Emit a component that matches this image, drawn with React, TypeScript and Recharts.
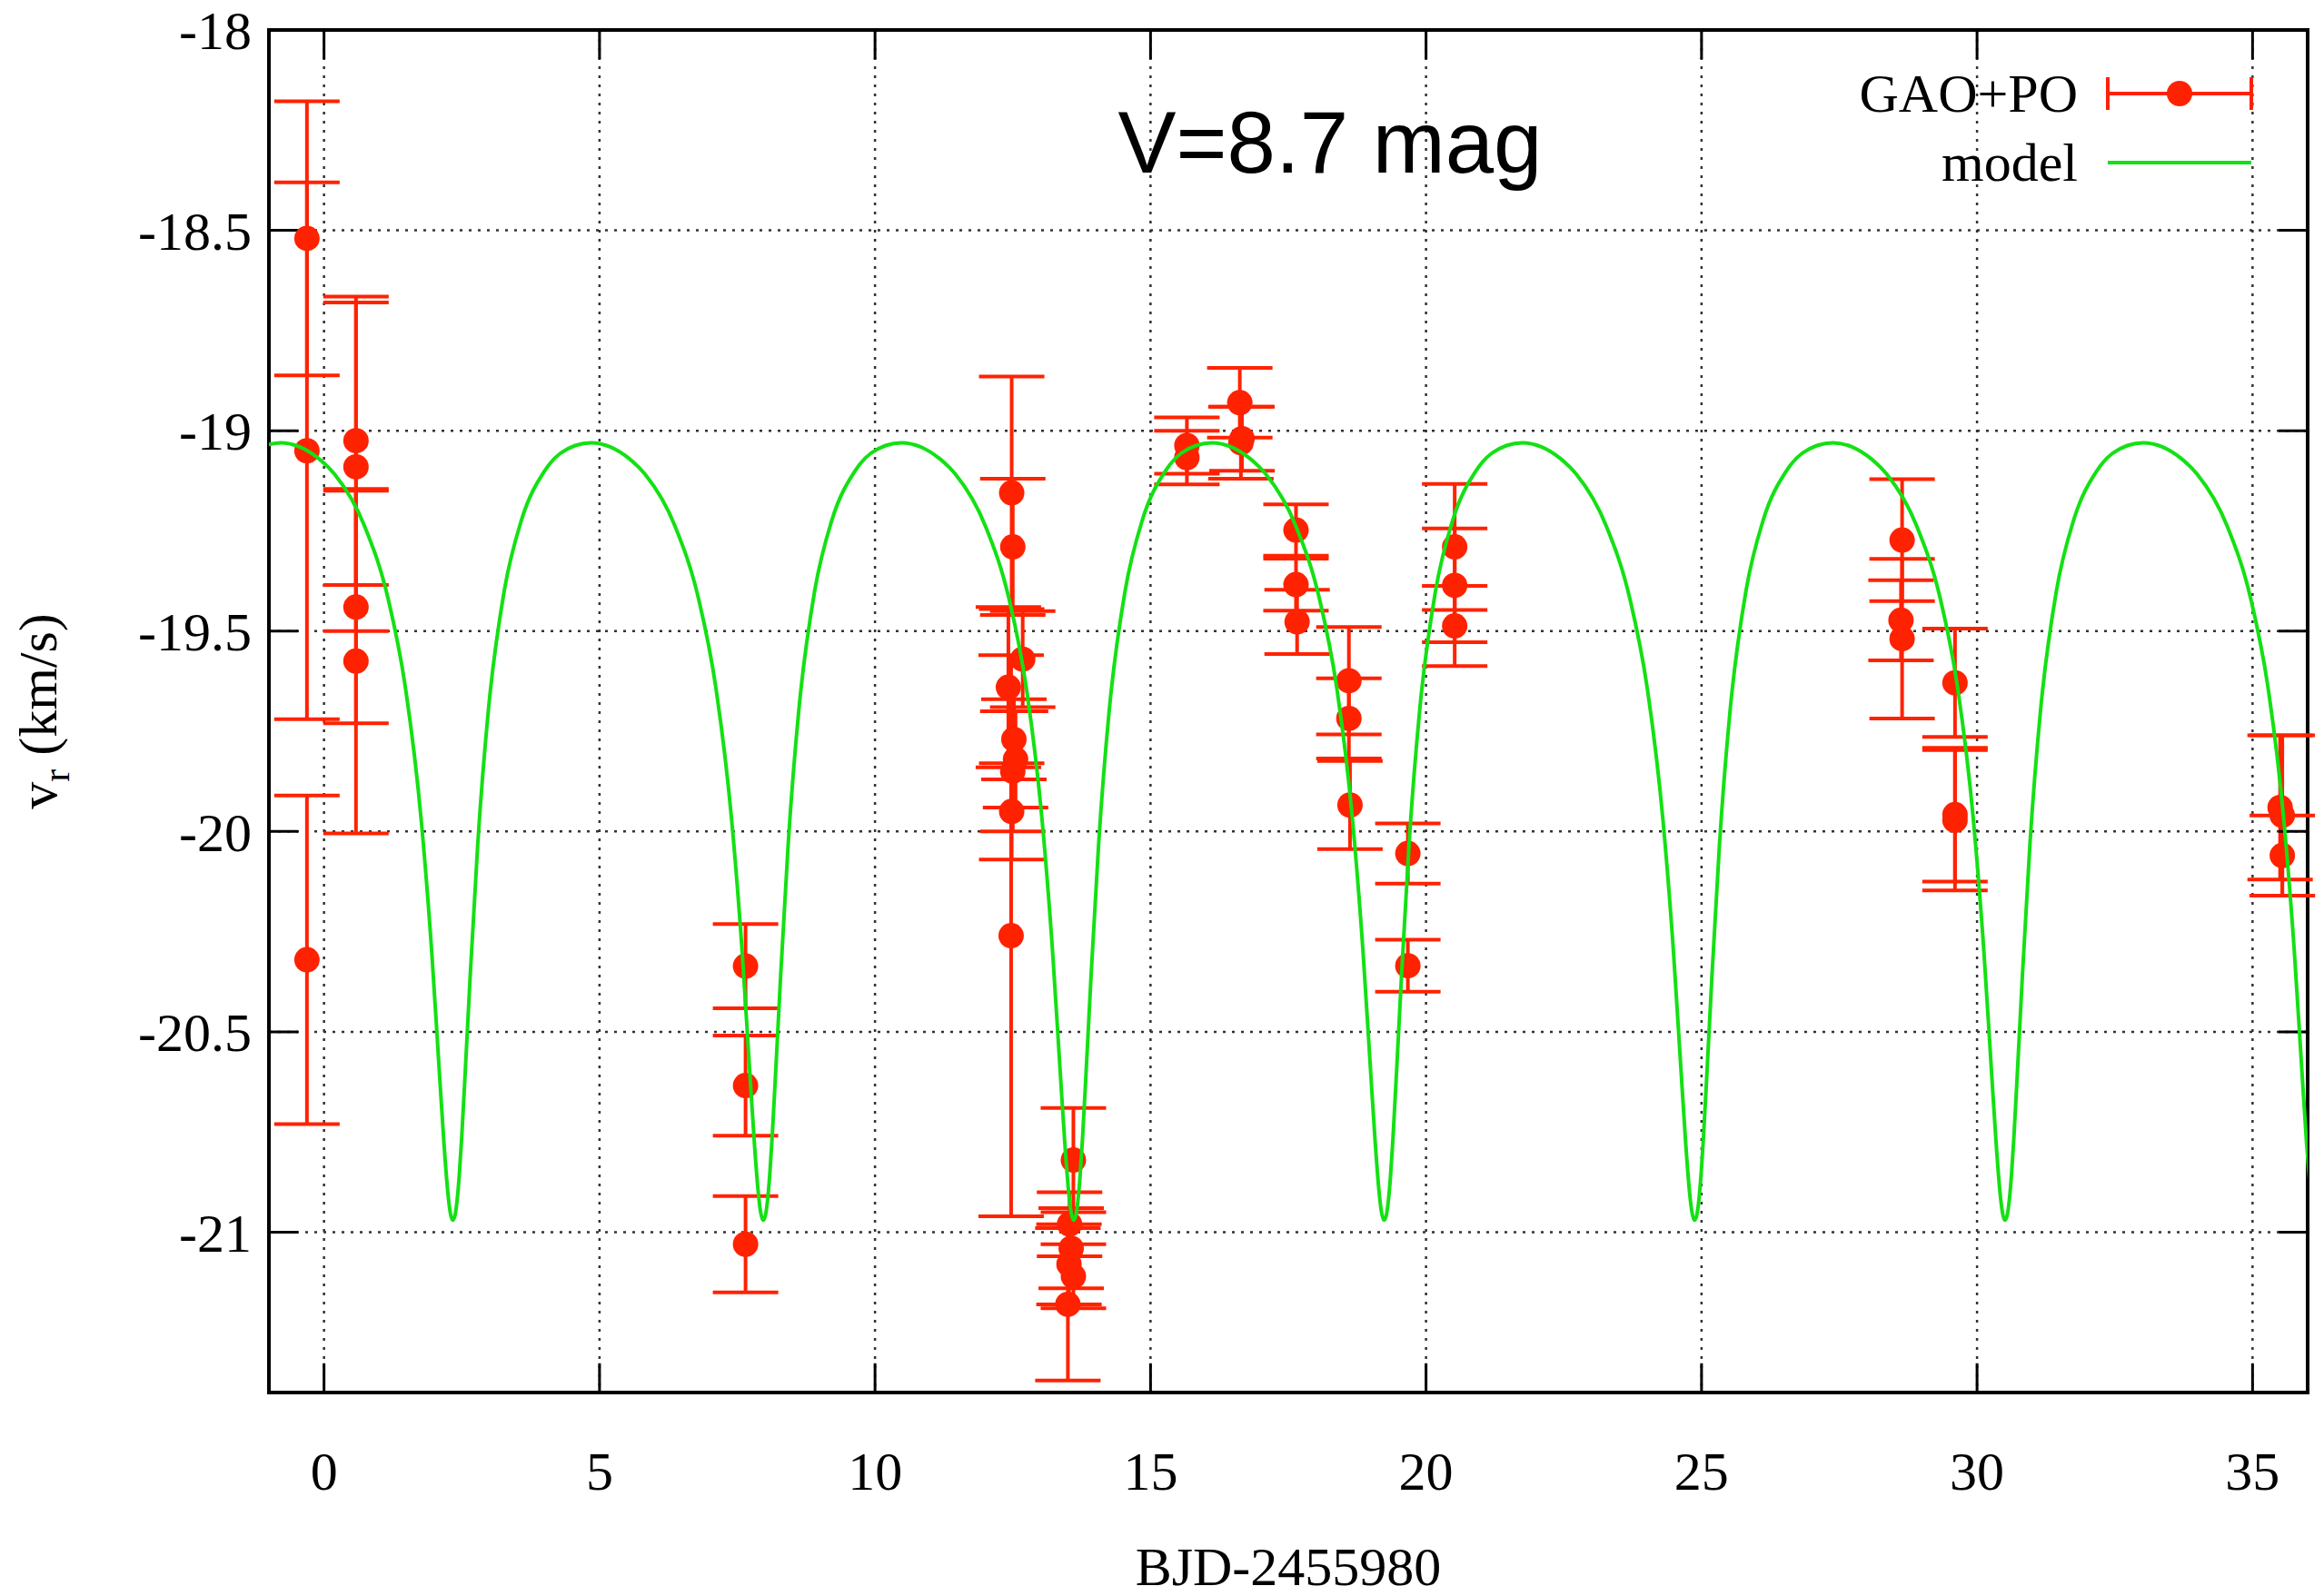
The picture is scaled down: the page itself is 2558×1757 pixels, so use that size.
import React from "react";
import {
  ComposedChart, Line, Scatter, ErrorBar, XAxis, YAxis, CartesianGrid,
  ReferenceLine, ReferenceArea, Legend, Label,
} from "recharts";

const W = 2558;
const H = 1757;

// GAO+PO radial velocities: time, velocity, 1-sigma error
const OBS_T = [
  -0.31, -0.31, -0.31,
  0.58, 0.58, 0.58, 0.58,
  7.65, 7.65, 7.65,
  12.48, 12.5, 12.68, 12.42, 12.52, 12.55, 12.5, 12.48, 12.47,
  13.6, 13.53, 13.56, 13.52, 13.6, 13.5,
  15.66, 15.66,
  16.62, 16.66, 16.64,
  17.64, 17.64, 17.66,
  18.6, 18.6, 18.62,
  19.67, 19.67,
  20.52, 20.52, 20.52,
  28.64, 28.62, 28.64,
  29.6, 29.6, 29.6,
  35.5, 35.54, 35.54,
];
const OBS_V = [
  -18.52, -19.05, -20.32,
  -19.025, -19.09, -19.44, -19.575,
  -20.336, -20.634, -21.03,
  -19.155, -19.29, -19.57, -19.64, -19.77, -19.82, -19.85, -19.95, -20.26,
  -20.82, -20.98, -21.04, -21.08, -21.11, -21.18,
  -19.037, -19.067,
  -18.93, -19.02, -19.03,
  -19.248, -19.384, -19.477,
  -19.624, -19.718, -19.934,
  -20.055, -20.335,
  -19.29, -19.386, -19.487,
  -19.273, -19.473, -19.519,
  -19.629, -19.958, -19.972,
  -19.94, -19.96, -20.06,
];
const OBS_ERR = [
  0.342, 0.67, 0.41,
  0.36, 0.41, 0.29, 0.43,
  0.105, 0.125, 0.12,
  0.29, 0.17, 0.12, 0.2, 0.1, 0.12, 0.15, 0.12, 0.7,
  0.13, 0.08, 0.1, 0.1, 0.08, 0.19,
  0.07, 0.067,
  0.087, 0.08, 0.09,
  0.064, 0.065, 0.08,
  0.134, 0.1, 0.11,
  0.075, 0.065,
  0.157, 0.142, 0.1,
  0.152, 0.1, 0.199,
  0.135, 0.167, 0.175,
  0.18, 0.2, 0.1,
];

// orbital model
const MODEL_T = [
  -1.076, -0.787,
  -0.444, -0.101, 0.188, 0.736, 1.163, 1.476, 1.763, 1.956, 2.093, 2.176, 2.247, 2.290, 2.332,
  2.373, 2.414, 2.456, 2.499, 2.570, 2.653, 2.790, 2.983, 3.270, 3.583, 4.010, 4.558, 4.847,
  5.190, 5.533, 5.822, 6.370, 6.797, 7.110, 7.397, 7.590, 7.727, 7.810, 7.881, 7.924, 7.966,
  8.007, 8.048, 8.090, 8.133, 8.204, 8.287, 8.424, 8.617, 8.904, 9.217, 9.644, 10.192, 10.481,
  10.824, 11.167, 11.456, 12.004, 12.431, 12.744, 13.031, 13.224, 13.361, 13.444, 13.515, 13.558, 13.600,
  13.641, 13.682, 13.724, 13.767, 13.838, 13.921, 14.058, 14.251, 14.538, 14.851, 15.278, 15.826, 16.115,
  16.458, 16.801, 17.090, 17.638, 18.065, 18.378, 18.665, 18.858, 18.995, 19.078, 19.149, 19.192, 19.234,
  19.275, 19.316, 19.358, 19.401, 19.472, 19.555, 19.692, 19.885, 20.172, 20.485, 20.912, 21.460, 21.749,
  22.092, 22.435, 22.724, 23.272, 23.699, 24.012, 24.299, 24.492, 24.629, 24.712, 24.783, 24.826, 24.868,
  24.909, 24.950, 24.992, 25.035, 25.106, 25.189, 25.326, 25.519, 25.806, 26.119, 26.546, 27.094, 27.383,
  27.726, 28.069, 28.358, 28.906, 29.333, 29.646, 29.933, 30.126, 30.263, 30.346, 30.417, 30.460, 30.502,
  30.543, 30.584, 30.626, 30.669, 30.740, 30.823, 30.960, 31.153, 31.440, 31.753, 32.180, 32.728, 33.017,
  33.360, 33.703, 33.992, 34.540, 34.967, 35.280, 35.567, 35.760, 35.897, 35.980, 36.051,
];
const MODEL_V = [
  -19.037, -19.030,
  -19.040, -19.069, -19.108, -19.238, -19.419, -19.640, -19.970, -20.303, -20.600, -20.777, -20.901, -20.950, -20.970,
  -20.960, -20.922, -20.855, -20.763, -20.581, -20.360, -20.031, -19.697, -19.400, -19.223, -19.099, -19.037, -19.030,
  -19.040, -19.069, -19.108, -19.238, -19.419, -19.640, -19.970, -20.303, -20.600, -20.777, -20.901, -20.950, -20.970,
  -20.960, -20.922, -20.855, -20.763, -20.581, -20.360, -20.031, -19.697, -19.400, -19.223, -19.099, -19.037, -19.030,
  -19.040, -19.069, -19.108, -19.238, -19.419, -19.640, -19.970, -20.303, -20.600, -20.777, -20.901, -20.950, -20.970,
  -20.960, -20.922, -20.855, -20.763, -20.581, -20.360, -20.031, -19.697, -19.400, -19.223, -19.099, -19.037, -19.030,
  -19.040, -19.069, -19.108, -19.238, -19.419, -19.640, -19.970, -20.303, -20.600, -20.777, -20.901, -20.950, -20.970,
  -20.960, -20.922, -20.855, -20.763, -20.581, -20.360, -20.031, -19.697, -19.400, -19.223, -19.099, -19.037, -19.030,
  -19.040, -19.069, -19.108, -19.238, -19.419, -19.640, -19.970, -20.303, -20.600, -20.777, -20.901, -20.950, -20.970,
  -20.960, -20.922, -20.855, -20.763, -20.581, -20.360, -20.031, -19.697, -19.400, -19.223, -19.099, -19.037, -19.030,
  -19.040, -19.069, -19.108, -19.238, -19.419, -19.640, -19.970, -20.303, -20.600, -20.777, -20.901, -20.950, -20.970,
  -20.960, -20.922, -20.855, -20.763, -20.581, -20.360, -20.031, -19.697, -19.400, -19.223, -19.099, -19.037, -19.030,
  -19.040, -19.069, -19.108, -19.238, -19.419, -19.640, -19.970, -20.303, -20.600, -20.777, -20.901,
];

const X_TICKS = [0, 5, 10, 15, 20, 25, 30, 35];
const Y_TICKS = [-18, -18.5, -19, -19.5, -20, -20.5, -21];
const X_DOMAIN: [number, number] = [-1, 36];
const Y_DOMAIN: [number, number] = [-21.4, -18];
const LEGEND_ORDER = ["GAO+PO", "model"];

const RED = "#ff2200";
const GREEN = "#14e014";
const SERIF = '"Liberation Serif", "Times New Roman", serif';
const SANS = '"Liberation Sans", Helvetica, Arial, sans-serif';

// inward tick length in data units (~32px)
const TICK_DX = 0.53;
const TICK_DY = 0.073;

const obsData = OBS_T.map((x, i) => ({ x, y: OBS_V[i], err: OBS_ERR[i] }));
const modelData = MODEL_T.map((x, i) => ({ x, y: MODEL_V[i] }));

const tickStyle = { fontFamily: SERIF, fontSize: 60, fill: "#000" };

function Dot(props: { cx?: number; cy?: number }) {
  if (props.cx == null || props.cy == null) return null;
  return <circle cx={props.cx} cy={props.cy} r={14} fill={RED} />;
}

function YTitle(props: { viewBox?: { x: number; y: number; width: number; height: number } }) {
  const vb = props.viewBox ?? { x: 0, y: 33, width: 296, height: 1500 };
  const cx = 62;
  const cy = vb.y + vb.height / 2;
  return (
    <text x={cx} y={cy} transform={`rotate(-90 ${cx} ${cy})`} textAnchor="middle"
      fontFamily={SERIF} fontSize={60} fill="#000">
      v<tspan fontSize={42} dy={14}>r</tspan>
      <tspan fontSize={60} dy={-14}> (km/s)</tspan>
    </text>
  );
}

function LegendBox({ payload }: { payload?: { value: string; type?: string; color?: string }[] }) {
  const items = [...(payload ?? [])].sort(
    (a, b) => LEGEND_ORDER.indexOf(a.value) - LEGEND_ORDER.indexOf(b.value)
  );
  return (
    <svg width={640} height={170} style={{ overflow: "visible" }}>
      {items.map((entry, i) => {
        const cy = 43 + i * 76;
        const isLine = entry.type === "line";
        const color = isLine ? GREEN : RED;
        return (
          <g key={entry.value}>
            <text x={387} y={cy + 20} textAnchor="end" fontFamily={SERIF} fontSize={60} fill="#000">
              {entry.value}
            </text>
            {isLine ? (
              <line x1={420} x2={578} y1={cy} y2={cy} stroke={color} strokeWidth={4} />
            ) : (
              <g stroke={color} strokeWidth={4}>
                <line x1={420} x2={578} y1={cy} y2={cy} />
                <line x1={420} x2={420} y1={cy - 18} y2={cy + 18} />
                <line x1={578} x2={578} y1={cy - 18} y2={cy + 18} />
                <circle cx={499} cy={cy} r={14} fill={color} stroke="none" />
              </g>
            )}
          </g>
        );
      })}
    </svg>
  );
}

export default function App() {
  return (
    <div style={{ position: "relative", width: W, height: H, background: "#fff" }}>
      <style>{"body{margin:0}"}</style>
      <ComposedChart width={W} height={H} margin={{ top: 33, right: 18, bottom: 0, left: 0 }}>
        <CartesianGrid stroke="#333" strokeDasharray="3 7" strokeWidth={2.5} />
        <XAxis
          type="number"
          dataKey="x"
          domain={X_DOMAIN}
          ticks={X_TICKS}
          interval={0}
          allowDataOverflow
          height={224}
          axisLine={false}
          tickLine={false}
          tickSize={0}
          tickMargin={64}
          tick={tickStyle}
        >
          <Label value="BJD-2455980" position="insideBottom" offset={12}
            fontFamily={SERIF} fontSize={60} fill="#000" />
        </XAxis>
        <YAxis
          type="number"
          domain={Y_DOMAIN}
          ticks={Y_TICKS}
          interval={0}
          allowDataOverflow
          width={296}
          axisLine={false}
          tickLine={false}
          tickSize={0}
          tickMargin={19}
          tick={tickStyle}
          label={<Label content={YTitle} />}
        />

        <Scatter name="GAO+PO" data={obsData} dataKey="y" fill={RED} legendType="circle"
          shape={Dot} isAnimationActive={false}>
          <ErrorBar dataKey="err" direction="y" width={36} stroke={RED} strokeWidth={4} />
        </Scatter>
        <Line name="model" data={modelData} dataKey="y" type="monotone" stroke={GREEN}
          strokeWidth={4} dot={false} activeDot={false} legendType="line" zIndex={700}
          isAnimationActive={false} />

        {X_TICKS.map((t) => (
          <ReferenceLine key={`xb${t}`} segment={[{ x: t, y: Y_DOMAIN[0] }, { x: t, y: Y_DOMAIN[0] + TICK_DY }]}
            stroke="#000" strokeWidth={3} />
        ))}
        {X_TICKS.map((t) => (
          <ReferenceLine key={`xt${t}`} segment={[{ x: t, y: Y_DOMAIN[1] }, { x: t, y: Y_DOMAIN[1] - TICK_DY }]}
            stroke="#000" strokeWidth={3} />
        ))}
        {Y_TICKS.map((t) => (
          <ReferenceLine key={`yl${t}`} segment={[{ x: X_DOMAIN[0], y: t }, { x: X_DOMAIN[0] + TICK_DX, y: t }]}
            stroke="#000" strokeWidth={3} />
        ))}
        {Y_TICKS.map((t) => (
          <ReferenceLine key={`yr${t}`} segment={[{ x: X_DOMAIN[1], y: t }, { x: X_DOMAIN[1] - TICK_DX, y: t }]}
            stroke="#000" strokeWidth={3} />
        ))}
        <ReferenceArea x1={X_DOMAIN[0]} x2={X_DOMAIN[1]} y1={Y_DOMAIN[0]} y2={Y_DOMAIN[1]}
          fill="none" stroke="#000" strokeWidth={4} />

        <Legend
          layout="vertical"
          align="center"
          verticalAlign="middle"
          content={LegendBox}
          wrapperStyle={{ left: 1900, top: 60, width: 640, height: 170 }}
        />
      </ComposedChart>
      <svg width={W} height={H} style={{ position: "absolute", left: 0, top: 0, pointerEvents: "none" }}>
        <text x={1464} y={190} textAnchor="middle" fontFamily={SANS} fontSize={96} fill="#000">
          V=8.7 mag
        </text>
      </svg>
    </div>
  );
}
